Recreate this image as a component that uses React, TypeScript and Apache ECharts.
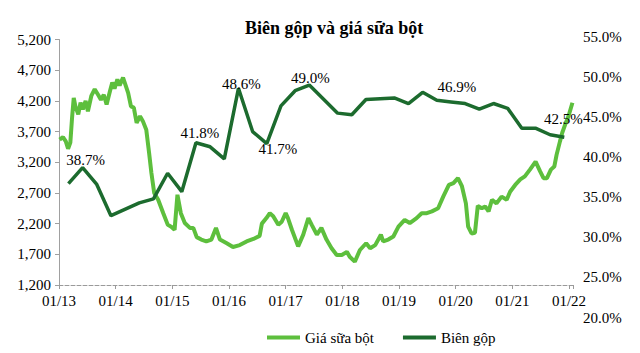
import React, { useEffect, useRef } from "react";
import * as echarts from "echarts";

// Giá sữa bột (left axis) — decimal year and price
const priceYears = [
  2013.01, 2013.07, 2013.12, 2013.16, 2013.2, 2013.23, 2013.26, 2013.29, 2013.34, 2013.38,
  2013.42, 2013.47, 2013.51, 2013.57, 2013.63, 2013.69, 2013.74, 2013.79, 2013.84, 2013.9,
  2013.94, 2013.98, 2014.03, 2014.07, 2014.13, 2014.17, 2014.22, 2014.27, 2014.32, 2014.37,
  2014.43, 2014.48, 2014.54, 2014.59, 2014.63, 2014.68, 2014.75, 2014.84, 2014.92, 2014.98,
  2015.04, 2015.09, 2015.15, 2015.22, 2015.31, 2015.37, 2015.43, 2015.51, 2015.6, 2015.69,
  2015.77, 2015.84, 2015.96, 2016.07, 2016.19, 2016.31, 2016.43, 2016.54, 2016.58, 2016.66,
  2016.72, 2016.78, 2016.87, 2016.93, 2017.0, 2017.04, 2017.11, 2017.22, 2017.31, 2017.4,
  2017.46, 2017.55, 2017.63, 2017.72, 2017.81, 2017.9, 2017.99, 2018.08, 2018.13, 2018.22,
  2018.31, 2018.42, 2018.49, 2018.58, 2018.68, 2018.72, 2018.81, 2018.9, 2018.99, 2019.1,
  2019.19, 2019.31, 2019.4, 2019.49, 2019.58, 2019.69, 2019.78, 2019.88, 2019.96, 2020.04,
  2020.11, 2020.18, 2020.22, 2020.28, 2020.34, 2020.39, 2020.46, 2020.52, 2020.58, 2020.64,
  2020.72, 2020.81, 2020.9, 2020.96, 2021.05, 2021.14, 2021.22, 2021.31, 2021.41, 2021.49,
  2021.55, 2021.61, 2021.68, 2021.74, 2021.78, 2021.84, 2021.88, 2021.93, 2021.99, 2022.06,
];
const priceValues = [
  3570, 3610, 3540, 3420, 3520, 3920, 4250, 4110, 3980, 4170,
  4060, 4200, 4030, 4280, 4390, 4300, 4220, 4300, 4140, 4360,
  4500, 4400, 4550, 4450, 4580, 4470, 4330, 4110, 4090, 3840,
  3950, 3870, 3730, 3350, 3030, 2700, 2590, 2370, 2180, 2150,
  2100, 2670, 2370, 2210, 2130, 2130, 1980, 1940, 1910, 1940,
  2130, 1940, 1880, 1820, 1850, 1910, 1950, 2000, 2200, 2290,
  2370, 2320, 2180, 2230, 2370, 2290, 2100, 1830, 2020, 2290,
  2180, 2020, 2130, 1940, 1800, 1690, 1690, 1740, 1660, 1580,
  1770, 1880, 1800, 1850, 2020, 1910, 1940, 1990, 2150, 2260,
  2210, 2290, 2370, 2370, 2400, 2450, 2640, 2830, 2860, 2940,
  2810, 2530, 2150, 2040, 2050, 2490, 2450, 2480, 2400, 2590,
  2530, 2640, 2590, 2720, 2830, 2920, 2970, 3080, 3210, 3050,
  2940, 2940, 3080, 3130, 3320, 3540, 3680, 3810, 3950, 4170,
];

// Biên gộp (right axis) — quarterly, percent
const marginDates = [
  "2013-03", "2013-06", "2013-09", "2013-12", "2014-06", "2014-09", "2014-12",
  "2015-03", "2015-06", "2015-09", "2015-12", "2016-03", "2016-06", "2016-09", "2016-12",
  "2017-03", "2017-06", "2017-12", "2018-03", "2018-06", "2018-12",
  "2019-03", "2019-06", "2019-09", "2019-12", "2020-03", "2020-06", "2020-09", "2020-12",
  "2021-03", "2021-06", "2021-09", "2021-12",
];
const marginValues = [
  36.7, 38.7, 36.6, 32.7, 34.3, 34.8, 38.0,
  35.7, 41.8, 41.3, 39.8, 48.6, 43.2, 41.7, 46.4,
  48.3, 49.0, 45.5, 45.3, 47.2, 47.4,
  46.7, 48.1, 47.1, 46.9, 46.7, 46.0, 46.7, 46.1,
  43.6, 43.6, 42.8, 42.5,
];

const xMin = 2013;
const xMax = 2022.07;

// which margin points carry a value label, and how the label sits
const marginLabelLayout: { idx: number; position: string; distance: number; offset: [number, number] }[] = [
  { idx: 1, position: "top", distance: 0, offset: [3, 0] },
  { idx: 8, position: "top", distance: 2, offset: [4, 0] },
  { idx: 11, position: "top", distance: -3, offset: [3, 0] },
  { idx: 13, position: "bottom", distance: -2, offset: [11, 0] },
  { idx: 16, position: "top", distance: 0, offset: [1, 0] },
  { idx: 24, position: "top", distance: 7, offset: [6, 0] },
  { idx: 32, position: "top", distance: 11, offset: [-1, 0] },
];

const SERIF = "'Liberation Serif', 'Times New Roman', serif";
const LIGHT = "#5dbf3d";
const DARK = "#1c6b2e";

function dateToYear(d: string): number {
  const [y, m] = d.split("-").map(Number);
  return y + (m - 1) / 12;
}

export default function App() {
  const ref = useRef<HTMLDivElement>(null);

  useEffect(() => {
    if (!ref.current) return;
    const chart = echarts.init(ref.current, undefined, { renderer: "svg" });

    const priceData = priceYears.map((x, i) => [x, priceValues[i]]);
    const marginData = marginDates.map((d, i) => {
      const item: any = { value: [dateToYear(d), marginValues[i]] };
      const lay = marginLabelLayout.find((l) => l.idx === i);
      if (lay) {
        item.label = {
          show: true,
          position: lay.position,
          distance: lay.distance,
          offset: lay.offset,
        };
      }
      return item;
    });

    const xFormatter = (v: number) =>
      Math.abs(v - Math.round(v)) < 1e-6 ? `01/${String(Math.round(v)).slice(2)}` : "";

    chart.setOption({
      animation: false,
      backgroundColor: "#fff",
      title: {
        text: "Biên gộp và giá sữa bột",
        left: 240,
        top: 14,
        textStyle: { fontFamily: SERIF, fontSize: 18, fontWeight: "bold", color: "#000" },
      },
      legend: {
        data: ["Giá sữa bột", "Biên gộp"],
        left: 262,
        top: 325,
        icon: "rect",
        itemWidth: 33,
        itemHeight: 4,
        itemGap: 29,
        textStyle: { fontFamily: SERIF, fontSize: 15, color: "#000" },
      },
      grid: [
        { left: 59, right: 67, top: 39.5, bottom: 68 },
        { left: 59, right: 67, top: 37, bottom: 35.5 },
      ],
      xAxis: [
        {
          type: "value",
          gridIndex: 0,
          min: xMin,
          max: xMax,
          interval: 1,
          axisLine: { show: true, lineStyle: { color: "#9a9a9a", type: "dashed", width: 1 } },
          axisTick: { show: true, length: 4, lineStyle: { color: "#9a9a9a" } },
          splitLine: { show: false },
          axisLabel: {
            formatter: xFormatter,
            fontFamily: SERIF,
            fontSize: 15,
            color: "#000",
            margin: 8,
          },
        },
        { type: "value", gridIndex: 1, min: xMin, max: xMax, show: false },
      ],
      yAxis: [
        {
          type: "value",
          gridIndex: 0,
          min: 1200,
          max: 5200,
          interval: 500,
          axisLine: { show: true, lineStyle: { color: "#a0a0a0", width: 1 } },
          axisTick: { show: true, length: 4, lineStyle: { color: "#a0a0a0" } },
          splitLine: { show: false },
          axisLabel: {
            formatter: (v: number) => v.toLocaleString("en-US"),
            fontFamily: SERIF,
            fontSize: 15,
            color: "#000",
            margin: 8,
          },
        },
        {
          type: "value",
          gridIndex: 1,
          position: "right",
          min: 20,
          max: 55,
          interval: 5,
          axisLine: { show: false },
          axisTick: { show: false },
          splitLine: { show: false },
          axisLabel: {
            formatter: (v: number) => `${v.toFixed(1)}%`,
            fontFamily: SERIF,
            fontSize: 15,
            color: "#000",
            margin: 10,
          },
        },
      ],
      series: [
        {
          name: "Giá sữa bột",
          type: "line",
          xAxisIndex: 0,
          yAxisIndex: 0,
          data: priceData,
          symbol: "none",
          lineStyle: { color: LIGHT, width: 4 },
          itemStyle: { color: LIGHT },
          z: 2,
        },
        {
          name: "Biên gộp",
          type: "line",
          xAxisIndex: 1,
          yAxisIndex: 1,
          data: marginData,
          symbol: "circle",
          symbolSize: 0.01,
          showSymbol: true,
          lineStyle: { color: DARK, width: 3.5 },
          itemStyle: { color: DARK },
          label: {
            show: false,
            formatter: (p: any) => `${Number(p.value[1]).toFixed(1)}%`,
            color: "#000",
            fontFamily: SERIF,
            fontSize: 15,
          },
          z: 3,
        },
      ],
    });

    return () => chart.dispose();
  }, []);

  return (
    <div
      ref={ref}
      style={{ position: "fixed", left: 0, top: 0, width: 640, height: 353, background: "#fff" }}
    />
  );
}
